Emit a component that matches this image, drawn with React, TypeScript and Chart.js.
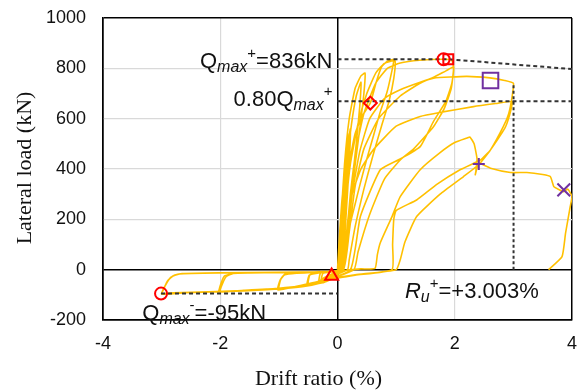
import React, { useEffect, useRef } from 'react';
import { Chart, registerables } from 'chart.js';

Chart.register(...registerables);

// ---- axis ranges / ticks ----
const xRange = [-4, 4];
const xStep = 2;
const yRange = [-200, 1000];
const yStep = 200;

// ---- hysteresis loops: [drift ratio (%), lateral load (kN)] per cycle ----
const cycle01 = [[0, 0], [0.03, 120], [0.07, 260], [0.1, 330], [0.08, 200], [0.05, 60], [0.03, 0], [-0.05, -15], [-0.1, -25], [-0.07, -12], [0, -4]];
const cycle02 = [[0.05, 150], [0.1, 330], [0.16, 480], [0.2, 540], [0.18, 400], [0.13, 220], [0.08, 40], [0.05, 0], [-0.1, -18], [-0.22, -35], [-0.28, -45], [-0.25, -15], [-0.1, -8], [0, -3]];
const cycle03 = [[0.06, 170], [0.12, 360], [0.18, 500], [0.22, 560], [0.2, 420], [0.15, 230], [0.1, 50], [0.07, 0], [-0.15, -22], [-0.28, -40], [-0.32, -50], [-0.29, -14], [-0.1, -8], [0.02, 0]];
const cycle04 = [[0.06, 200], [0.12, 420], [0.2, 600], [0.3, 720], [0.4, 770], [0.47, 781], [0.45, 700], [0.38, 560], [0.28, 380], [0.18, 180], [0.1, 0], [-0.15, -30], [-0.35, -48], [-0.5, -56], [-0.47, -20], [-0.35, -12], [-0.1, -8], [0.05, 0]];
const cycle05 = [[0.1, 200], [0.16, 420], [0.24, 580], [0.32, 690], [0.4, 745], [0.38, 650], [0.32, 500], [0.24, 330], [0.16, 150], [0.1, 0], [-0.2, -35], [-0.4, -52], [-0.52, -60], [-0.48, -22], [-0.3, -12], [-0.1, -8], [0.05, 0]];
const cycle06 = [[0.1, 200], [0.2, 420], [0.3, 540], [0.42, 610], [0.56, 662], [0.66, 745], [0.75, 805], [0.85, 828], [0.96, 834], [0.9, 760], [0.84, 702], [0.72, 620], [0.61, 529], [0.5, 440], [0.39, 344], [0.3, 260], [0.22, 185], [0.15, 90], [0.1, 12], [0.08, 0], [-0.2, -40], [-0.5, -62], [-0.8, -70], [-1.0, -76], [-0.97, -40], [-0.9, -20], [-0.7, -14], [-0.4, -10], [-0.1, -6], [0.05, 0]];
const cycle07 = [[0.12, 200], [0.22, 420], [0.35, 580], [0.5, 700], [0.65, 780], [0.8, 820], [0.98, 830], [0.96, 760], [0.88, 670], [0.75, 570], [0.6, 450], [0.45, 320], [0.3, 170], [0.2, 40], [0.17, 0], [-0.3, -45], [-0.7, -66], [-1.02, -80], [-0.98, -42], [-0.9, -18], [-0.5, -12], [-0.1, -8], [0.1, 0]];
const cycle08 = [[0.15, 120], [0.22, 300], [0.32, 480], [0.45, 620], [0.65, 740], [0.85, 800], [1.07, 821], [1.4, 832], [1.8, 836], [1.95, 832], [1.98, 800], [1.94, 720], [1.82, 640], [1.64, 569], [1.3, 480], [1.07, 436], [0.8, 360], [0.55, 220], [0.35, 70], [0.28, 0], [-0.3, -50], [-0.8, -70], [-1.4, -80], [-2.0, -86], [-1.96, -55], [-1.9, -28], [-1.78, -15], [-1.5, -13], [-1.0, -12], [-0.3, -8], [0.1, 0]];
const cycle09 = [[0.2, 150], [0.3, 330], [0.45, 480], [0.7, 600], [1.07, 690], [1.4, 740], [1.64, 765], [1.85, 790], [1.98, 805], [1.95, 740], [1.85, 670], [1.64, 590], [1.41, 489], [1.07, 440], [0.73, 397], [0.39, 211], [0.22, 0], [-0.4, -55], [-1.0, -74], [-1.6, -82], [-2.02, -88], [-1.98, -50], [-1.92, -24], [-1.75, -14], [-1.2, -11], [-0.5, -9], [0, -5]];
const cycle10 = [[0.15, 100], [0.25, 300], [0.38, 470], [0.55, 600], [0.8, 680], [1.07, 715], [1.41, 745], [1.64, 761], [2.2, 768], [2.6, 762], [2.85, 752], [3.0, 741], [2.98, 690], [2.92, 620], [2.83, 569], [2.61, 476], [2.42, 420], [2.15, 370], [1.75, 300], [1.35, 211], [1.15, 110], [1.07, 39], [1.0, 0], [0.3, -20], [-0.1, -35], [-0.2, -48], [-0.6, -68], [-1.2, -80], [-2.0, -88], [-2.6, -92], [-3.0, -97], [-2.96, -75], [-2.9, -45], [-2.8, -24], [-2.65, -15], [-2.0, -12], [-1.0, -10], [-0.3, -8], [0, -5]];
const cycle11 = [[0.1, 40], [0.22, 277], [0.4, 400], [0.61, 476], [1.0, 570], [1.41, 609], [1.75, 625], [2.32, 648], [2.7, 660], [2.98, 668], [2.93, 610], [2.85, 560], [2.61, 476], [2.44, 436], [2.3, 420], [2.09, 397], [1.7, 340], [1.35, 277], [1.0, 235], [0.96, 200], [0.94, 100], [0.93, 0], [0.3, -22], [-0.1, -38], [-0.25, -52], [-0.8, -72], [-1.5, -82], [-2.2, -88], [-2.8, -92], [-3.0, -95], [-2.93, -60], [-2.84, -30], [-2.7, -17], [-2.0, -13], [-1.0, -11], [-0.2, -8], [0, -5]];
const cycle12 = [[0.4, 3], [0.64, 5], [0.68, 60], [0.73, 107], [0.93, 211], [1.07, 290], [1.41, 397], [1.75, 465], [2.0, 505], [2.21, 523], [2.26, 527], [2.33, 500], [2.38, 440], [2.36, 390], [2.35, 377], [2.41, 423], [2.61, 403], [2.95, 386], [3.23, 386], [3.5, 378], [3.63, 370], [3.69, 330], [3.78, 318], [3.86, 310], [3.93, 320], [4.0, 290], [3.97, 251], [3.89, 145], [3.83, 52], [3.6, 0]];

const cycles = [cycle01, cycle02, cycle03, cycle04, cycle05, cycle06, cycle07, cycle08, cycle09, cycle10, cycle11, cycle12];

// ---- key points ----
const markerNames = ['Qmax+ circle', 'Qmax+ square', 'yield', 'ultimate', 'crack', 'fracture', 'reversal', 'Qmax-'];
const markerDrift = [1.81, 1.89, 0.56, 2.61, 2.41, 3.86, -0.1, -3.01];
const markerLoad = [836, 836, 662, 752, 420, 317, -25, -95];

// ---- reference values ----
const qmaxPos = 836;
const qmaxNeg = -95;
const ruPos = 3.003;
const qmax80 = 669;
const envelopeEndLoad = 797;
const envelopeAtRu = 741;
const qmaxDriftPos = 1.9;

const RED = '#FF0000';
const PURPLE = '#7030A0';
const GOLD = '#FFC000';
const SANS = "'Liberation Sans', Arial, sans-serif";
const SERIF = "'Liberation Serif', 'Times New Roman', serif";
const TEXT = '#111';

const markerStyles = [
  { style: 'circle', color: RED, r: 6 },
  { style: 'rect', color: RED, r: 7 },
  { style: 'rectRot', color: RED, r: 6.5 },
  { style: 'rect', color: PURPLE, r: 11 },
  { style: 'cross', color: PURPLE, r: 6 },
  { style: 'crossRot', color: PURPLE, r: 9 },
  { style: 'triangle', color: RED, r: 7.5 },
  { style: 'circle', color: RED, r: 6 },
];

type Part = { t: string; size: number; italic?: boolean; dy?: number };

function drawRich(ctx: CanvasRenderingContext2D, parts: Part[], x: number, y: number, align: 'left' | 'right') {
  const font = (p: Part) => `${p.italic ? 'italic ' : ''}${p.size}px ${SANS}`;
  let total = 0;
  for (const p of parts) {
    ctx.font = font(p);
    total += ctx.measureText(p.t).width;
  }
  let cx = align === 'right' ? x - total : x;
  for (const p of parts) {
    ctx.font = font(p);
    ctx.fillText(p.t, cx, y + (p.dy || 0));
    cx += ctx.measureText(p.t).width;
  }
}

const M = 22; // main annotation font size
const S = 16; // subscript size
const P = 15; // superscript size

const textPlugin = {
  id: 'richText',
  afterDraw(chart: any) {
    const { ctx, scales } = chart;
    const xs = scales.x;
    const ys = scales.y;
    ctx.save();
    ctx.fillStyle = TEXT;
    ctx.textAlign = 'left';
    ctx.textBaseline = 'alphabetic';
    const x0 = xs.getPixelForValue(0);
    drawRich(ctx, [
      { t: 'Q', size: M },
      { t: 'max', size: S, italic: true, dy: 4 },
      { t: '+', size: P, dy: -10 },
      { t: '=836kN', size: M },
    ], x0 - 5, ys.getPixelForValue(qmaxPos) + 8.5, 'right');
    drawRich(ctx, [
      { t: '0.80', size: M },
      { t: 'Q', size: M },
      { t: 'max', size: S, italic: true, dy: 4 },
      { t: '+', size: P, dy: -10 },
    ], x0 - 5, ys.getPixelForValue(qmax80) + 4.5, 'right');
    drawRich(ctx, [
      { t: 'Q', size: M },
      { t: 'max', size: S, italic: true, dy: 4 },
      { t: '-', size: P, dy: -10 },
      { t: '=-95kN', size: M },
    ], xs.getPixelForValue(-3.33), ys.getPixelForValue(qmaxNeg) + 26, 'left');
    drawRich(ctx, [
      { t: 'R', size: M, italic: true },
      { t: 'u', size: S, italic: true, dy: 4 },
      { t: '+', size: P, dy: -10 },
      { t: '=+3.003%', size: M },
    ], xs.getPixelForValue(1.15), ys.getPixelForValue(0) + 28.6, 'left');

    // axis titles
    ctx.font = `22px ${SERIF}`;
    ctx.textAlign = 'center';
    ctx.fillText('Drift ratio (%)', 318.5, 385);
    ctx.translate(30.5, (chart.chartArea.top + chart.chartArea.bottom) / 2 - 1);
    ctx.rotate(-Math.PI / 2);
    ctx.fillText('Lateral load (kN)', 0, 0);
    ctx.restore();
  },
};

const gridColor = (edges: number[]) => (c: any) =>
  edges.includes(c.tick?.value) ? '#000' : '#d9d9d9';
const gridWidth = (edges: number[]) => (c: any) =>
  edges.includes(c.tick?.value) ? 1.5 : 1.2;

export default function App() {
  const ref = useRef<HTMLCanvasElement | null>(null);
  useEffect(() => {
    if (!ref.current) return;
    const pts = (arr: number[][]) => arr.map(([x, y]) => ({ x, y }));
    const curve = pts(cycles.flat() as any);

    const markerSets = markerDrift.map((d, i) => ({
      label: markerNames[i],
      data: [{ x: d, y: markerLoad[i] }],
      pointStyle: markerStyles[i].style,
      pointRadius: markerStyles[i].r,
      pointBorderColor: markerStyles[i].color,
      pointBackgroundColor: 'rgba(0,0,0,0)',
      pointBorderWidth: 2,
      showLine: false,
      order: 0,
    }));

    const dashed = (data: { x: number; y: number }[], dash: number[]) => ({
      label: 'ref',
      data,
      showLine: true,
      borderColor: '#333',
      borderWidth: 2,
      borderDash: dash,
      pointRadius: 0,
      tension: 0,
      order: 1,
    });

    const chart = new Chart(ref.current, {
      type: 'scatter',
      data: {
        datasets: [
          ...markerSets,
          dashed([{ x: 0, y: qmaxPos }, { x: qmaxDriftPos, y: qmaxPos }, { x: xRange[1], y: envelopeEndLoad }], [4, 3]),
          dashed([{ x: 0, y: qmax80 }, { x: xRange[1], y: qmax80 }], [4, 3]),
          dashed([{ x: ruPos, y: 0 }, { x: ruPos, y: envelopeAtRu }], [3, 2.5]),
          dashed([{ x: markerDrift[7], y: qmaxNeg }, { x: 0, y: qmaxNeg }], [4, 3]),
          {
            label: 'hysteresis',
            data: curve,
            showLine: true,
            borderColor: GOLD,
            borderWidth: 1.6,
            pointRadius: 0,
            tension: 0.15,
            order: 2,
          },
        ] as any,
      },
      options: {
        animation: false,
        responsive: false,
        devicePixelRatio: 1,
        layout: { padding: { top: 18, right: 16, left: 0, bottom: 0 } },
        plugins: { legend: { display: false }, tooltip: { enabled: false } },
        scales: {
          x: {
            type: 'linear',
            min: xRange[0],
            max: xRange[1],
            ticks: { stepSize: xStep, padding: 13, color: TEXT, font: { family: SANS, size: 18 }, callback: (v: any) => String(v) },
            grid: { color: gridColor([0, xRange[0], xRange[1]]), lineWidth: gridWidth([0, xRange[0], xRange[1]]), drawTicks: false },
            border: { color: '#000', width: 1.5 },
            afterFit: (s: any) => { s.height = 70; s.paddingLeft = 0; s.paddingRight = 0; },
          },
          y: {
            type: 'linear',
            min: yRange[0],
            max: yRange[1],
            ticks: { stepSize: yStep, padding: 17, color: TEXT, font: { family: SANS, size: 18 }, callback: (v: any) => String(v) },
            grid: { color: gridColor([0, yRange[0], yRange[1]]), lineWidth: gridWidth([0, yRange[0], yRange[1]]), drawTicks: false },
            border: { color: '#000', width: 1.5 },
            afterFit: (s: any) => { s.width = 103; s.paddingTop = 0; s.paddingBottom = 0; },
          },
        },
      } as any,
      plugins: [textPlugin],
    });
    return () => chart.destroy();
  }, []);

  return (
    <div style={{ position: 'fixed', left: 0, top: 0, width: 588, height: 390, background: '#fff' }}>
      <canvas ref={ref} width={588} height={390} />
    </div>
  );
}
